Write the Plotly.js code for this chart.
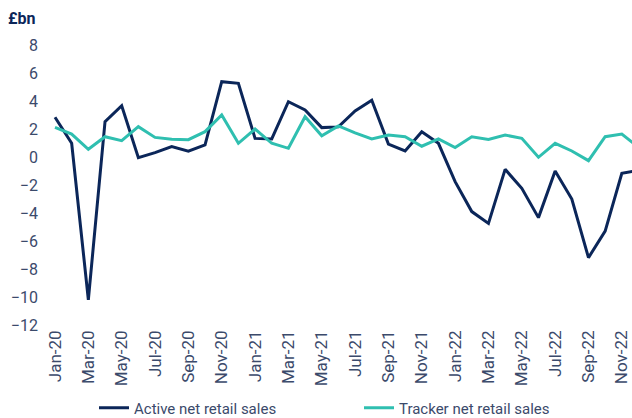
<!DOCTYPE html>
<html>
<head>
<meta charset="utf-8">
<script src="https://cdn.plot.ly/plotly-3.0.1.min.js"></script>
<style>html,body{margin:0;padding:0;background:#fff}#chart{width:632px;height:418px}</style>
</head>
<body>
<div id="chart"></div>
<script>
const months = ["Jan-20","Feb-20","Mar-20","Apr-20","May-20","Jun-20","Jul-20","Aug-20","Sep-20","Oct-20","Nov-20","Dec-20",
"Jan-21","Feb-21","Mar-21","Apr-21","May-21","Jun-21","Jul-21","Aug-21","Sep-21","Oct-21","Nov-21","Dec-21",
"Jan-22","Feb-22","Mar-22","Apr-22","May-22","Jun-22","Jul-22","Aug-22","Sep-22","Oct-22","Nov-22","Dec-22"];
const activeNetRetailSales = [2.84,0.98,-10.2,2.52,3.66,-0.05,0.31,0.74,0.42,0.86,5.38,5.26,
1.33,1.29,3.95,3.36,2.1,2.15,3.29,4.05,0.92,0.43,1.81,0.98,
-1.76,-3.9,-4.74,-0.88,-2.24,-4.33,-1.0,-3.0,-7.19,-5.29,-1.17,-0.95];
const trackerNetRetailSales = [2.12,1.64,0.55,1.45,1.17,2.17,1.4,1.26,1.24,1.81,3.0,0.98,
2.0,0.98,0.62,2.88,1.52,2.22,1.72,1.29,1.57,1.45,0.77,1.29,
0.67,1.45,1.26,1.57,1.33,-0.02,0.98,0.43,-0.26,1.45,1.64,0.7];
const tickLabels = ["Jan-20","Mar-20","May-20","Jul-20","Sep-20","Nov-20","Jan-21","Mar-21","May-21","Jul-21","Sep-21","Nov-21","Jan-22","Mar-22","May-22","Jul-22","Sep-22","Nov-22"];
const yTicks = [-12,-10,-8,-6,-4,-2,0,2,4,6,8];

const textColor = "#3b4a6b";
const fontFam = "Roboto, 'Liberation Sans', sans-serif";

const data = [
  {x: months, y: activeNetRetailSales, type: "scatter", mode: "lines", name: "Active net retail sales",
   line: {color: "#0b2659", width: 3}},
  {x: months, y: trackerNetRetailSales, type: "scatter", mode: "lines", name: "Tracker net retail sales",
   line: {color: "#2fbfb0", width: 3}}
];

const layout = {
  width: 632, height: 418,
  margin: {l: 46, r: 0, t: 45, b: 93},
  paper_bgcolor: "#fff", plot_bgcolor: "#fff",
  font: {family: fontFam, color: textColor, size: 15},
  title: {text: "£bn", font: {family: fontFam, size: 16, color: "#0b2659", weight: "bold"},
          xref: "container", yref: "container", x: 8/632, xanchor: "left", y: 1 - 18/418, yanchor: "middle"},
  xaxis: {type: "category", range: [-0.54, 34.61], tickmode: "array", tickvals: tickLabels, ticktext: tickLabels,
          tickangle: -90, showgrid: false, zeroline: false, showline: false, ticks: "",
          ticklabelstandoff: 1, tickfont: {size: 17, color: textColor}},
  yaxis: {range: [-12, 8], tickmode: "array", tickvals: yTicks, showgrid: false, zeroline: false, showline: false,
          ticks: "", ticklabelstandoff: 7, tickfont: {size: 16, color: textColor}},
  showlegend: true,
  legend: {orientation: "h", xref: "container", yref: "container", x: 94/632, xanchor: "left",
           y: 1 - 408/418, yanchor: "middle", font: {size: 15, color: textColor}, entrywidth: 220, entrywidthmode: "pixels"}
};

Plotly.newPlot("chart", data, layout, {staticPlot: true, displayModeBar: false});
</script>
</body>
</html>
